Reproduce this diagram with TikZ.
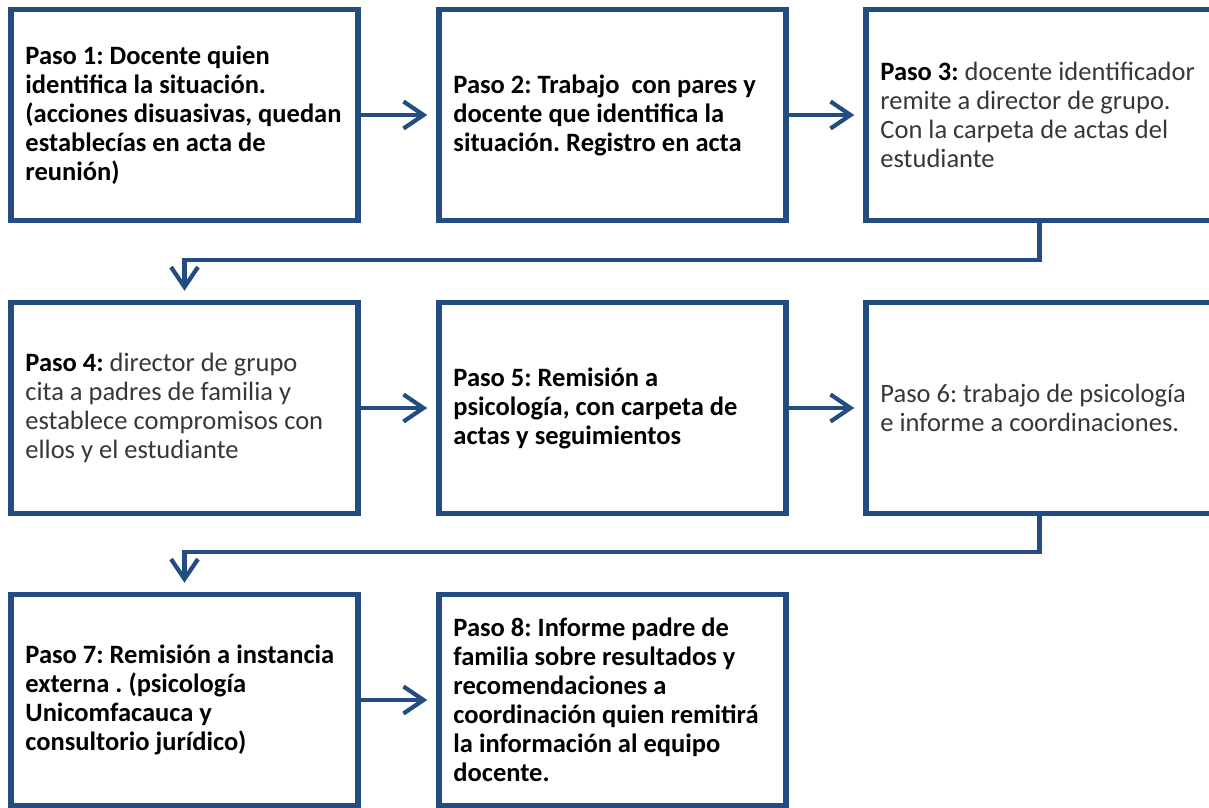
\documentclass[tikz,border=0pt]{standalone}
\usepackage{fontspec}
\setmainfont{Carlito}
\frenchspacing
\usetikzlibrary{arrows.meta,calc}
\definecolor{boxblue}{RGB}{35,76,128}
\definecolor{txtgray}{RGB}{55,55,55}
\tikzset{
  stepbox/.style={draw=boxblue, line width=5.5pt, fill=white, rectangle,
    minimum width=347pt, minimum height=211pt, inner sep=0pt},
  steptxt/.style={anchor=west, inner sep=0pt, align=left,
    font=\fontsize{26.5}{29}\selectfont, text=txtgray},
  boldtxt/.style={steptxt, font=\fontsize{26.5}{29}\selectfont\bfseries, text=black},
  conn/.style={draw=boxblue, line width=4.2pt,
    -{Straight Barb[length=20pt,width=27pt]}, shorten >=9pt}
}
\begin{document}
\begin{tikzpicture}[x=1pt,y=-1pt]
\useasboundingbox (0,0) rectangle (1209,807);
\clip (0,0) rectangle (1209,807);
\node[stepbox] (b1) at (184.5,115) {};
\node[stepbox] (b2) at (612.5,115) {};
\node[stepbox] (b3) at (1039.5,115) {};
\node[stepbox] (b4) at (184.5,408) {};
\node[stepbox] (b5) at (612.5,408) {};
\node[stepbox] (b6) at (1039.5,408) {};
\node[stepbox] (b7) at (184.5,700) {};
\node[stepbox] (b8) at (612.5,700) {};
\node[boldtxt] (t1) at ($(b1.west)+(17,0)$) {Paso 1: Docente quien\\identifica la situación.\\(acciones disuasivas, quedan\\establecías en acta de\\reunión)};
\node[boldtxt] (t2) at ($(b2.west)+(17,0)$) {Paso 2: Trabajo\ \ con pares y\\docente que identifica la\\situación. Registro en acta};
\node[steptxt] (t3) at ($(b3.west)+(17,0)$) {\textcolor{black}{\bfseries Paso 3:} docente identificador\\remite a director de grupo.\\Con la carpeta de actas del\\estudiante};
\node[steptxt] (t4) at ($(b4.west)+(17,0)$) {\textcolor{black}{\bfseries Paso 4:} director de grupo\\cita a padres de familia y\\establece compromisos con\\ellos y el estudiante};
\node[boldtxt] (t5) at ($(b5.west)+(17,0)$) {Paso 5: Remisión a\\psicología, con carpeta de\\actas y seguimientos};
\node[steptxt] (t6) at ($(b6.west)+(17,0)$) {Paso 6: trabajo de psicología\\e informe a coordinaciones.};
\node[boldtxt] (t7) at ($(b7.west)+(17,0)$) {Paso 7: Remisión a instancia\\externa . (psicología\\Unicomfacauca y\\consultorio jurídico)};
\node[boldtxt] (t8) at ($(b8.west)+(17,0)$) {Paso 8: Informe padre de\\familia sobre resultados y\\recomendaciones a\\coordinación quien remitirá\\la información al equipo\\docente.};
\draw[conn] (b1.east) -- (b2.west);
\draw[conn] (b2.east) -- (b3.west);
\draw[conn] (b4.east) -- (b5.west);
\draw[conn] (b5.east) -- (b6.west);
\draw[conn] (b7.east) -- (b8.west);
\draw[conn] (b3.south) |- ($(b4.north)+(0,-40)$) -- (b4.north);
\draw[conn] (b6.south) |- ($(b7.north)+(0,-40)$) -- (b7.north);
\end{tikzpicture}
\end{document}
